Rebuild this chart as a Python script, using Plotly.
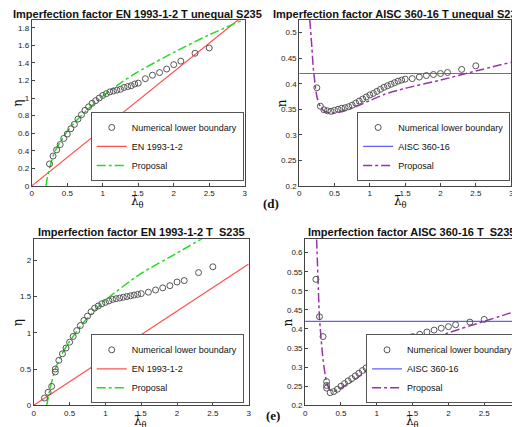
import plotly.graph_objects as go

# Panel (a) EN T unequal
a_x = [0.25,0.3,0.35,0.4,0.45,0.5,0.55,0.6,0.65,0.7,0.75,0.8,0.85,0.9,0.95,1.0,1.05,1.1,1.15,1.2,1.25,1.3,1.35,1.4,1.45,1.5,1.6,1.7,1.8,1.9,2.0,2.1,2.3,2.5]
a_y = [0.25,0.34,0.41,0.47,0.54,0.59,0.65,0.70,0.76,0.81,0.86,0.90,0.94,0.97,1.00,1.03,1.05,1.07,1.08,1.09,1.10,1.12,1.13,1.14,1.16,1.17,1.22,1.26,1.29,1.33,1.38,1.42,1.51,1.57]
a_prop_x = [0.2,0.22,0.25,0.3,0.35,0.4,0.5,0.6,0.8,1.0,1.25,1.5,2.0,2.5,2.95]
a_prop_y = [0.0,0.1,0.2,0.34,0.43,0.5,0.62,0.72,0.88,1.02,1.17,1.3,1.52,1.72,1.88]
en_x = [0, 3]
en_y = [0, 1.95]

# Panel (b) AISC T unequal
b_x = a_x
b_y = [0.392,0.356,0.349,0.347,0.346,0.348,0.350,0.352,0.353,0.355,0.358,0.362,0.366,0.370,0.374,0.378,0.381,0.385,0.389,0.393,0.396,0.399,0.402,0.405,0.407,0.409,0.410,0.413,0.416,0.418,0.420,0.422,0.428,0.435]
b_prop_x = [0.15,0.18,0.2,0.25,0.3,0.35,0.45,0.5,0.6,0.8,1.0,1.2,1.5,2.0,2.5,3.0]
b_prop_y = [0.525,0.47,0.43,0.375,0.355,0.347,0.342,0.342,0.345,0.355,0.367,0.379,0.391,0.407,0.425,0.442]
aisc_x = [0, 3]
aisc_y = [0.42, 0.42]

# Panel (c) EN T
c_x = [0.15,0.2,0.25,0.3,0.3,0.35,0.4,0.45,0.5,0.55,0.6,0.65,0.7,0.75,0.8,0.85,0.9,0.95,1.0,1.05,1.1,1.15,1.2,1.25,1.3,1.35,1.4,1.45,1.5,1.6,1.7,1.8,1.9,2.0,2.1,2.3,2.5]
c_y = [0.10,0.18,0.26,0.46,0.50,0.62,0.71,0.79,0.87,0.95,1.03,1.10,1.17,1.23,1.29,1.34,1.37,1.40,1.42,1.44,1.46,1.47,1.48,1.49,1.50,1.51,1.52,1.53,1.54,1.56,1.59,1.62,1.65,1.70,1.72,1.83,1.91]
c_prop_x = [0.18,0.2,0.22,0.26,0.3,0.4,0.5,0.7,1.0,1.5,2.0,2.35]
c_prop_y = [0.0,0.1,0.2,0.36,0.5,0.72,0.88,1.15,1.45,1.82,2.1,2.3]

# Panel (d) AISC T
d_x = [0.15,0.2,0.25,0.3,0.3,0.3,0.35,0.4,0.45,0.5,0.55,0.6,0.65,0.7,0.75,0.8,0.85,0.9,0.95,1.0,1.05,1.1,1.15,1.2,1.25,1.3,1.35,1.4,1.45,1.5,1.6,1.7,1.8,1.9,2.0,2.1,2.3,2.5]
d_y = [0.53,0.432,0.38,0.262,0.252,0.245,0.233,0.236,0.242,0.25,0.257,0.264,0.27,0.277,0.284,0.291,0.298,0.305,0.312,0.318,0.325,0.331,0.337,0.343,0.349,0.354,0.36,0.365,0.37,0.38,0.386,0.392,0.397,0.402,0.406,0.411,0.418,0.425]
d_prop_x = [0.16,0.18,0.2,0.25,0.3,0.35,0.4,0.5,0.7,1.0,1.5,2.0,2.5,3.0]
d_prop_y = [0.635,0.53,0.43,0.32,0.26,0.24,0.237,0.245,0.268,0.31,0.355,0.39,0.42,0.45]

W, H = 520, 427
def px(x): return x / W
def py(y): return 1 - y / H

fig = go.Figure()
mk = dict(symbol="circle-open", size=6, color="#555555", line=dict(width=1))
panels = [
    ("x", "y", "legend", a_x, a_y, en_x, en_y, "#ff5050", "EN 1993-1-2", a_prop_x, a_prop_y, "#22dd22"),
    ("x2", "y2", "legend2", b_x, b_y, aisc_x, aisc_y, "#6060ff", "AISC 360-16", b_prop_x, b_prop_y, "#9933aa"),
    ("x3", "y3", "legend3", c_x, c_y, en_x, en_y, "#ff5050", "EN 1993-1-2", c_prop_x, c_prop_y, "#22dd22"),
    ("x4", "y4", "legend4", d_x, d_y, aisc_x, aisc_y, "#6060ff", "AISC 360-16", d_prop_x, d_prop_y, "#9933aa"),
]
for xa, ya, lg, mx, my, lx, ly, lc, ln, prx, pry, pc in panels:
    fig.add_trace(go.Scatter(x=lx, y=ly, mode="lines", line=dict(color=lc, width=1.2), name=ln, xaxis=xa, yaxis=ya, legend=lg, legendrank=2))
    fig.add_trace(go.Scatter(x=prx, y=pry, mode="lines", line=dict(color=pc, width=1.5, dash="dashdot", shape="spline", smoothing=0.6), name="Proposal", xaxis=xa, yaxis=ya, legend=lg, legendrank=3))
    fig.add_trace(go.Scatter(x=mx, y=my, mode="markers", marker=mk, name="Numerical lower boundary", xaxis=xa, yaxis=ya, legend=lg, legendrank=1))

ax = dict(showgrid=False, zeroline=False, showline=True, mirror=True, linecolor="#444", linewidth=1,
          ticks="inside", ticklen=3, tickcolor="#444", tickfont=dict(size=8, color="#222"))
fig.update_layout(
    width=W, height=H, margin=dict(l=0, r=0, t=0, b=0), paper_bgcolor="white", plot_bgcolor="white",
    font=dict(family="Liberation Sans", color="#111"),
    xaxis=dict(ax, domain=[px(22), px(237)], range=[0, 3], dtick=0.5, anchor="y"),
    yaxis=dict(ax, domain=[py(180), py(12)], range=[0, 1.89], dtick=0.2, anchor="x"),
    xaxis2=dict(ax, domain=[px(292), px(506)], range=[0, 3], dtick=0.5, anchor="y2"),
    yaxis2=dict(ax, domain=[py(180), py(12)], range=[0.2, 0.525], dtick=0.05, anchor="x2"),
    xaxis3=dict(ax, domain=[px(24), px(241)], range=[0, 3], dtick=0.5, anchor="y3"),
    yaxis3=dict(ax, domain=[py(402), py(234)], range=[0, 2.29], dtick=0.5, anchor="x3"),
    xaxis4=dict(ax, domain=[px(298), px(515)], range=[0, 3], dtick=0.5, anchor="y4"),
    yaxis4=dict(ax, domain=[py(402), py(234)], range=[0.2, 0.635], dtick=0.05, anchor="x4"),
)
lgd = dict(bgcolor="white", bordercolor="#555", borderwidth=1, font=dict(size=9, color="#111"),
           xanchor="right", yanchor="bottom", tracegroupgap=0, itemwidth=30)
fig.update_layout(
    legend=dict(lgd, x=px(236), y=py(175)),
    legend2=dict(lgd, x=px(505), y=py(175)),
    legend3=dict(lgd, x=px(236), y=py(400)),
    legend4=dict(lgd, x=px(514), y=py(400)),
)
def ann(t, xc, yc, font, **kw):
    fig.add_annotation(text=t, x=px(xc), y=py(yc), xref="paper", yref="paper", showarrow=False,
                       xanchor="center", yanchor="middle", font=font, **kw)
tf = dict(size=11, family="Liberation Sans", color="#111")
for t, xc, yc in [("<b>Imperfection factor EN 1993-1-2 T unequal S235</b>", 129, 6),
                  ("<b>Imperfection factor AISC 360-16 T unequal S235</b>", 392, 6),
                  ("<b>Imperfection factor EN 1993-1-2 T  S235</b>", 133, 227),
                  ("<b>Imperfection factor AISC 360-16 T  S235</b>", 405, 227)]:
    ann(t, xc, yc, tf)
sf = dict(size=12, family="DejaVu Serif", color="#111")
for xc, yc in [(129, 196), (394, 196), (132, 419), (406, 419)]:
    ann("λ̄<sub>θ</sub>", xc, yc, sf)
for t, xc, yc in [("η", 8, 96), ("n", 275, 96), ("η", 8, 318), ("n", 281, 318)]:
    ann(t, xc, yc, sf, textangle=-90)
for t, xc, yc in [("<b>(d)</b>", 264, 198), ("<b>(e)</b>", 266, 412)]:
    ann(t, xc, yc, dict(size=13, family="Liberation Serif", color="#111"))
fig.write_html("out.html")
